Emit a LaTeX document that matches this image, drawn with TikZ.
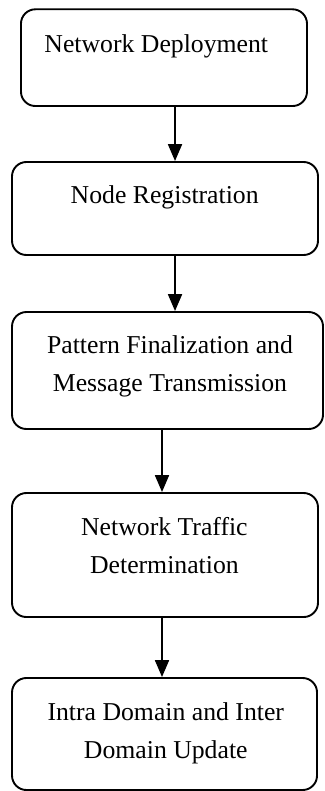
\documentclass[tikz,border=0pt]{standalone}
\usepackage{fontspec}
\setmainfont{Liberation Serif}
\usetikzlibrary{arrows.meta}

\tikzset{
  stage/.style={draw, line width=0.9pt, rounded corners=0.24cm, inner sep=0pt},
  stagetext/.style={anchor=base, align=center, font=\fontsize{12.2}{18}\selectfont},
  flow/.style={line width=0.9pt, -{Triangle[width=6.6pt,length=8pt]}}
}

\begin{document}
\begin{tikzpicture}
		%%%%% START %%%%%
		\useasboundingbox (0, 0) rectangle (5.4, -13.183);
		
		% columns the arrows run down
		\coordinate (colA) at (2.917, 0);
		\coordinate (colB) at (2.7, 0);
		
		% base of a two-line label sits on its last line
		\node[stage, minimum width=4.767cm, minimum height=1.612cm] (deploy) at (2.733, -0.961) {};
		\node[stagetext] (deployT) at (2.605, -0.867) {Network Deployment};
		
		\node[stage, minimum width=5.1cm, minimum height=1.55cm] (reg) at (2.75, -3.475) {};
		\node[stagetext] (regT) at (2.745, -3.388) {Node Registration};
		
		\node[stage, minimum width=5.183cm, minimum height=1.95cm] (pattern) at (2.792, -6.175) {};
		\node[stagetext] (patternT) at (2.833, -6.528) {Pattern Finalization and\\Message Transmission};
		
		\node[stage, minimum width=5.1cm, minimum height=2.067cm] (traffic) at (2.75, -9.25) {};
		\node[stagetext] (trafficT) at (2.74, -9.555) {Network Traffic\\Determination};
		
		\node[stage, minimum width=5.083cm, minimum height=1.867cm] (update) at (2.742, -12.233) {};
		\node[stagetext] (updateT) at (2.763, -12.633) {Intra Domain and Inter\\Domain Update};
		
		\draw[flow] (deploy.south -| colA) -- (reg.north -| colA);
		\draw[flow] (reg.south -| colA) -- (pattern.north -| colA);
		\draw[flow] (pattern.south -| colB) -- (traffic.north -| colB);
		\draw[flow] (traffic.south -| colB) -- (update.north -| colB);
		
		%%%%% END %%%%%
	\end{tikzpicture}
\end{document}
